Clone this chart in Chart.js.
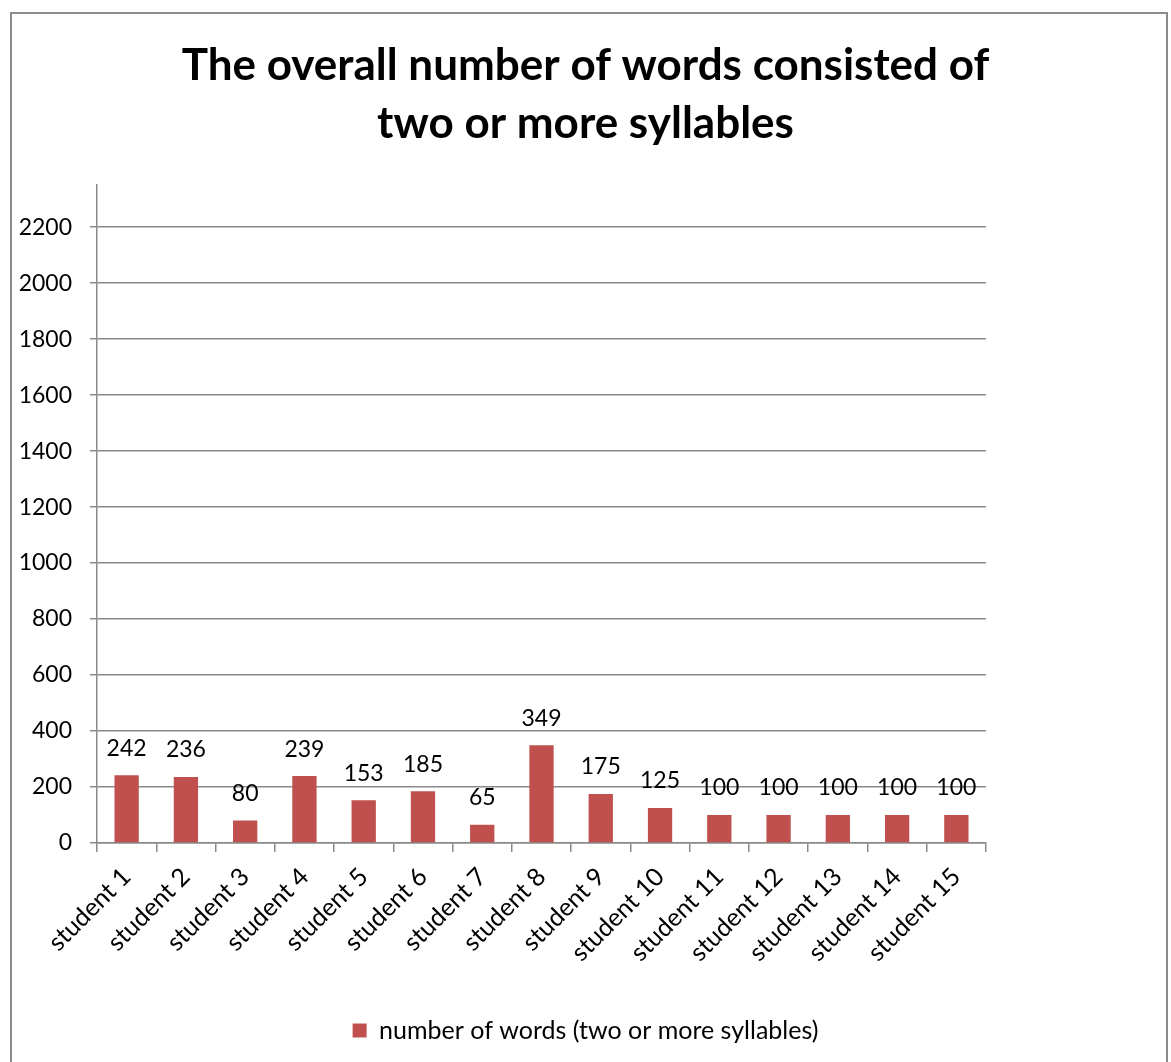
<!DOCTYPE html>
<html>
<head>
<meta charset="utf-8">
<script src="https://cdn.jsdelivr.net/npm/chart.js@4.4.1/dist/chart.umd.min.js"></script>
<style>
  html, body { margin: 0; padding: 0; background: #fff; }
  #wrap { position: relative; width: 1171px; height: 1062px; overflow: hidden; }
  #frame {
    position: absolute; left: 10px; top: 12px; width: 1158px; height: 1080px;
    border: 2px solid #8c8c8c; box-sizing: border-box;
  }
  #chart { position: absolute; left: 0; top: 0; }
</style>
</head>
<body>
<div id="wrap">
  <div id="frame"></div>
  <canvas id="chart" width="1171" height="1062"></canvas>
</div>
<script>
const students = ['student 1', 'student 2', 'student 3', 'student 4', 'student 5',
  'student 6', 'student 7', 'student 8', 'student 9', 'student 10',
  'student 11', 'student 12', 'student 13', 'student 14', 'student 15'];
const wordCounts = [242, 236, 80, 239, 153, 185, 65, 349, 175, 125, 100, 100, 100, 100, 100];
const yTicks = [0, 200, 400, 600, 800, 1000, 1200, 1400, 1600, 1800, 2000, 2200];

const FONT = 'Lato, "Open Sans", sans-serif';
const BAR_RED = '#C0504D';
const GRID = '#8a8a8a';

// value written above each bar
const barValues = {
    id: 'barValues',
    afterDatasetsDraw(chart) {
        const ctx = chart.ctx;
        const meta = chart.getDatasetMeta(0);
        ctx.save();
        ctx.font = '23px ' + FONT;
        ctx.fillStyle = '#000';
        ctx.textAlign = 'center';
        ctx.textBaseline = 'middle';
        meta.data.forEach((bar, i) => {
            ctx.fillText(String(wordCounts[i]), bar.x, bar.y - 27);
        });
        ctx.restore();
    }
};

const ctx = document.getElementById('chart').getContext('2d');
new Chart(ctx, {
    type: 'bar',
    data: {
        labels: students,
        datasets: [{
            label: 'number of words (two or more syllables)',
            data: wordCounts,
            backgroundColor: BAR_RED,
            borderWidth: 0,
            barPercentage: 0.41,
            categoryPercentage: 1.0
        }]
    },
    options: {
        responsive: false,
        animation: false,
        layout: { padding: { top: 0, bottom: 9, left: 0, right: 0 } },
        plugins: {
            title: {
                display: true,
                text: ['The overall number of words consisted of', 'two or more syllables'],
                color: '#000',
                font: { family: FONT, size: 44, weight: 'bold', lineHeight: 1.32 },
                padding: { top: 37, bottom: 32 }
            },
            legend: {
                position: 'bottom',
                labels: {
                    color: '#000',
                    font: { family: FONT, size: 25 },
                    boxWidth: 14,
                    boxHeight: 14,
                    padding: 9
                }
            },
            tooltip: { enabled: false }
        },
        scales: {
            x: {
                offset: true,
                grid: {
                    display: true,
                    drawOnChartArea: false,
                    color: GRID,
                    lineWidth: 1.5,
                    tickLength: 9,
                    offset: true
                },
                border: { color: GRID, width: 1.5 },
                ticks: {
                    color: '#000',
                    font: { family: FONT, size: 25 },
                    minRotation: 45,
                    maxRotation: 45,
                    padding: 10,
                    autoSkip: false
                },
                afterFit(scale) { scale.height = 166; }
            },
            y: {
                min: 0,
                max: 2350,
                grid: { color: GRID, lineWidth: 1.5, tickLength: 7 },
                border: { color: GRID, width: 1.5 },
                ticks: {
                    color: '#000',
                    font: { family: FONT, size: 23 },
                    padding: 18,
                    callback: v => String(v)
                },
                afterBuildTicks(scale) {
                    scale.ticks = yTicks.map(v => ({ value: v }));
                },
                afterFit(scale) { scale.width = 97; }
            },
            spacer: {
                position: 'right',
                display: true,
                grid: { display: false },
                border: { display: false },
                ticks: { display: false },
                afterFit(scale) { scale.width = 185; }
            }
        }
    },
    plugins: [barValues]
});
</script>
</body>
</html>
